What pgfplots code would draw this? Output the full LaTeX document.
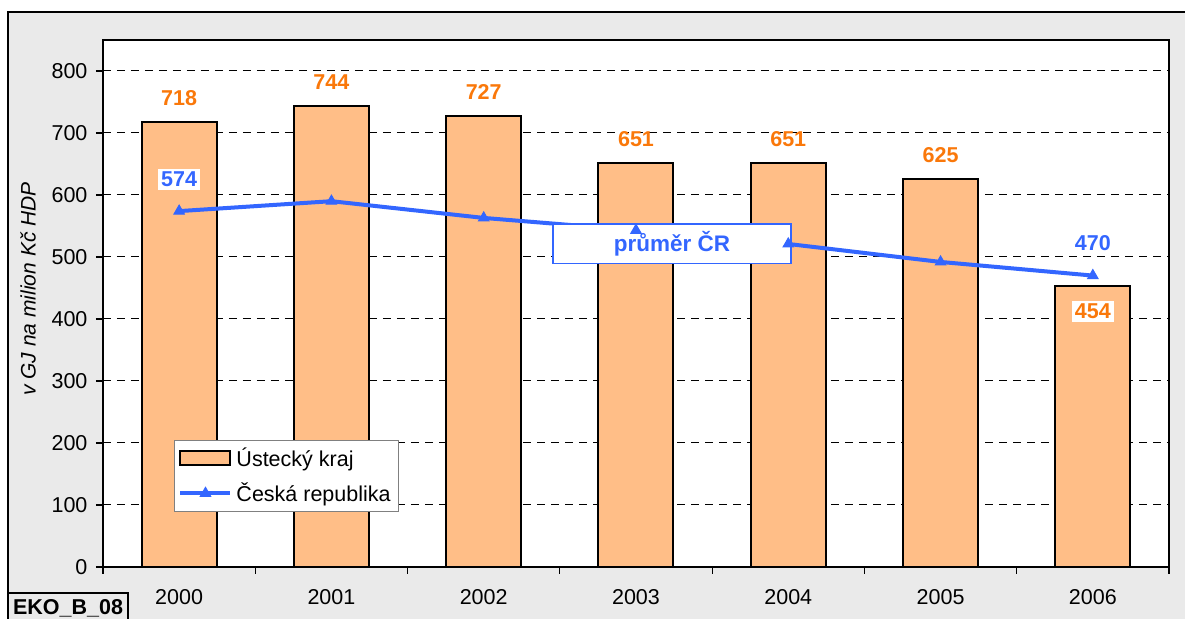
\documentclass[border=0pt]{standalone}
\usepackage{pgfplots}
\pgfplotsset{compat=1.18}
\usepackage{fontspec}
\setmainfont{Liberation Sans}
\definecolor{bgGrey}{RGB}{234,234,234}
\definecolor{barFill}{RGB}{255,190,135}
\definecolor{lblOrange}{RGB}{250,120,10}
\definecolor{lineBlue}{RGB}{51,102,255}
\newcommand{\fs}{\fontsize{10.75}{12.5}\selectfont}
\pgfplotsset{
  barlegend/.style={legend image code/.code={\draw[##1, line width=1pt] (0pt,-3.5pt) rectangle (25pt,3.5pt);}},
  linelegend/.style={legend image code/.code={\draw[mark repeat=2, mark phase=2, ##1] plot coordinates {(0pt,0pt) (12.5pt,0pt) (25pt,0pt)};}},
}
\begin{document}
\fs
\begin{tikzpicture}
\useasboundingbox (-51.5pt,-26pt) rectangle (541pt,283.5pt);
\fill[bgGrey] (-47.5pt,-26pt) rectangle (541pt,277.5pt);
\draw[black, line width=0.9pt] (-47.5pt,-26pt) -- (-47.5pt,277.5pt) -- (541pt,277.5pt);
\begin{axis}[
  at={(0pt,0pt)}, anchor=south west,
  scale only axis, width=533pt, height=263.5pt,
  xmin=-0.5, xmax=6.5, ymin=0, ymax=850,
  axis background/.style={fill=white},
  axis line style={black, line width=0.7pt},
  xtick={0,...,6},
  xticklabels={2000,2001,2002,2003,2004,2005,2006},
  minor xtick={-0.5,0.5,...,6.5},
  ytick={0,100,...,800},
  tick pos=left, tick align=outside,
  major tick length=3.5pt,
  major x tick style={draw=none},
  minor tick length=3.5pt,
  tick style={black, line width=0.6pt},
  ymajorgrids,
  y grid style={black, line width=0.5pt, dash pattern=on 4pt off 3pt},
  /pgf/number format/assume math mode=true,
  ticklabel style={font=\fs},
  xticklabel style={yshift=-4pt},
  yticklabel style={xshift=-0.5pt},
  legend style={at={(0.0666,0.241)}, anchor=north west, draw=gray, line width=0.5pt,
    fill=white, font=\fs, inner xsep=2pt, inner ysep=1.5pt,
    row sep=2.5pt, cells={anchor=west}},
  legend cell align=left,
]
\addplot[ybar, bar width=37.5pt, bar shift=0pt, fill=barFill, draw=black, line width=1pt,
  nodes near coords,
  every node near coord/.append style={anchor=center, yshift=12pt, text=lblOrange,
    font=\fs\bfseries},
  barlegend]
  coordinates {(0,718) (1,744) (2,727) (3,651) (4,651) (5,625)};
\addlegendentry{Ústecký kraj}
\addplot[ybar, bar width=37.5pt, bar shift=0pt, fill=barFill, draw=black, line width=1pt,
  forget plot,
  nodes near coords,
  every node near coord/.append style={anchor=center, yshift=-13pt, text=lblOrange, fill=white,
    inner sep=1.5pt, font=\fs\bfseries}]
  coordinates {(6,454)};
\addplot[color=lineBlue, line width=2pt, mark=triangle*, mark size=3pt,
  mark options={solid, line width=0.5pt}, linelegend]
  coordinates {(0,574) (1,590) (2,563) (3,543) (4,521) (5,492) (6,470)};
\addlegendentry{Česká republika}
\addplot[draw=none, forget plot, nodes near coords, point meta=explicit symbolic,
  every node near coord/.append style={anchor=center, yshift=16pt, text=lineBlue, fill=white, inner sep=1.5pt,
    font=\fs\bfseries}]
  coordinates {(0,574)[574] (6,470)[470]};
\node[draw=lineBlue, fill=white, line width=0.9pt, minimum width=119pt, minimum height=17pt,
  text=lineBlue, font=\fontsize{11.25}{13}\selectfont\bfseries] at (axis cs:3.236,521) {průměr ČR};
\end{axis}
\node[rotate=90, font=\fontsize{10.5}{12}\selectfont\itshape] at (-37.5pt,139pt) {v GJ na milion Kč HDP};
\draw[black, line width=0.9pt, fill=bgGrey] (-47.5pt,-30pt) rectangle (12.5pt,-13pt);
\node[font=\fs\bfseries] at (-17.5pt,-20.5pt) {EKO\_B\_08};
\end{tikzpicture}
\end{document}
